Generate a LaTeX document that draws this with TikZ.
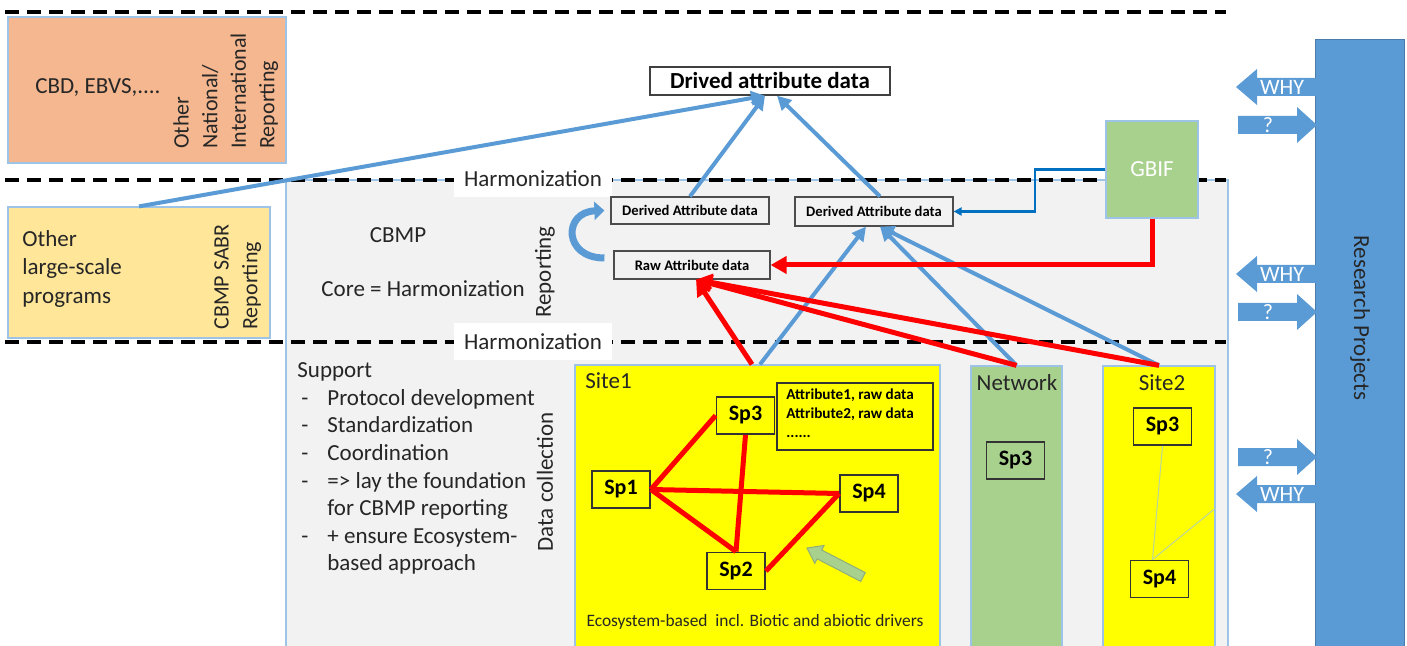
\documentclass[tikz,border=0pt]{standalone}
\usepackage{fontspec}
\setmainfont{Carlito}
\usetikzlibrary{arrows.meta}
\definecolor{orangeF}{HTML}{F4B790}
\definecolor{lyellow}{HTML}{FFE699}
\definecolor{panelgray}{HTML}{F2F2F2}
\definecolor{lineblue}{HTML}{9DC3E6}
\definecolor{arrowblue}{HTML}{5B9BD5}
\definecolor{gbifblue}{HTML}{0070C0}
\definecolor{gbifgreen}{HTML}{A9D18E}
\definecolor{resblue}{HTML}{5B9BD5}
\definecolor{txtgray}{HTML}{262626}
\definecolor{siteyellow}{HTML}{FFFF00}
\definecolor{garrowline}{HTML}{8FAE7A}
\newcommand\fsL{\fontsize{11.5pt}{14pt}\selectfont}
\newcommand\fsB{\fontsize{11pt}{13.4pt}\selectfont}
\newcommand\fsR{\fontsize{11pt}{14.3pt}\selectfont}
\newcommand\fsS{\fontsize{7.3pt}{8.5pt}\selectfont}
\newcommand\fsE{\fontsize{8.7pt}{10pt}\selectfont}
\begin{document}
\begin{tikzpicture}[x=0.5pt,y=-0.5pt,
  dashln/.style={black, line width=1.6pt, dash pattern=on 7pt off 4pt},
  region/.style={draw=lineblue, line width=0.6pt, inner sep=0pt},
  abox/.style={draw=black!70, line width=0.6pt, fill=panelgray, inner sep=0pt, font=\fsS\bfseries},
  spbox/.style={draw=black!80, line width=0.9pt, inner sep=0pt, minimum width=29pt, minimum height=18.5pt, font=\fsB\bfseries},
  lbl/.style={inner sep=0pt, text=txtgray, font=\fsL},
  harm/.style={fill=white, inner sep=0pt, minimum width=79pt, minimum height=18.5pt, text=txtgray, font=\fsL},
  barrow/.style={arrowblue, line width=2pt, -{Triangle[length=7pt,width=7pt]}},
  rarrow/.style={red, line width=2.5pt, -{Triangle[length=8pt,width=8.5pt]}},
  wtxt/.style={inner sep=0pt, text=white, font=\fsB},
  blk/.style={fill=resblue}
]
\useasboundingbox (0,0) rectangle (1407,646);

% left boxes
\node[region, fill=orangeF, minimum width=139pt, minimum height=73pt] (orange) at (147,90) {};
\node[region, fill=lyellow, minimum width=131pt, minimum height=65.5pt] (oth) at (139,272.5) {};
% grey panel
\node[region, fill=panelgray, minimum width=471pt, minimum height=235pt] (panel) at (757,415) {};

% sites
\node[region, fill=siteyellow, minimum width=182.5pt, minimum height=142.5pt] (site1) at (757.5,507.5) {};
\node[region, fill=gbifgreen, minimum width=45.5pt, minimum height=142pt] (network) at (1016.5,508) {};
\node[region, fill=siteyellow, minimum width=56pt, minimum height=142pt] (site2) at (1159,508) {};

% dashed lines
\coordinate (d1a) at (5,12);   \coordinate (d1b) at (1226,12);
\coordinate (d2a) at (5,180);  \coordinate (d2b) at (1226,180);
\coordinate (d3a) at (5,342);  \coordinate (d3b) at (1226,342);
\draw[dashln] (d1a) -- (d1b);
\draw[dashln] (d2a) -- (d2b);
\draw[dashln] (d3a) -- (d3b);

\node[harm] (harm1) at (533,179) {Harmonization};
\node[harm] (harm2) at (533,342) {Harmonization};

% left texts
\node[lbl] (cbd) at (98,88) {CBD, EBVS,....};
\node[lbl, font=\fsR, anchor=north west, align=left, rotate=90] (natrep) at (173,149) {Other\\National/\\International\\Reporting};
\node[lbl, font=\fsL, anchor=north west, align=left] (othtxt) at (22,230) {Other\\[0.2pt]large-scale\\[0.2pt]programs};
\node[lbl, font=\fsR, anchor=north west, align=left, rotate=90] (sabr) at (214,330) {CBMP SABR\\Reporting};

% panel texts
\node[lbl] (cbmp) at (398,235) {CBMP};
\node[lbl] (core) at (423,289) {Core = Harmonization};
\node[lbl, rotate=90] (reporting) at (545,272) {Reporting};
\node[lbl, rotate=90] (datacol) at (545,482) {Data collection};
\node[lbl, anchor=north west] (support) at (297,358) {\fontsize{11.5pt}{13.8pt}\selectfont
\begin{tabular}{@{}p{15pt}@{}l@{}}
\multicolumn{2}{@{}l@{}}{Support}\\
\hspace{2pt}-&Protocol development\\
\hspace{2pt}-&Standardization\\
\hspace{2pt}-&Coordination\\
\hspace{2pt}-&=> lay the foundation\\
 &for CBMP reporting\\
\hspace{2pt}-&+ ensure Ecosystem-\\
 &based approach
\end{tabular}};

% reporting boxes
\node[draw=black!75, line width=0.7pt, fill=white, inner sep=0pt, minimum width=120pt, minimum height=14pt, font=\fsL\bfseries] (drived) at (770,81) {Drived attribute data};
\node[abox, minimum width=79pt, minimum height=13.5pt] (d1) at (690,210.5) {Derived Attribute data};
\node[abox, minimum width=79pt, minimum height=14.5pt] (d2) at (874,211.5) {Derived Attribute data};
\node[abox, minimum width=78pt, minimum height=14pt] (raw) at (692,265) {Raw Attribute data};
\node[draw=lineblue, line width=0.6pt, fill=gbifgreen, minimum width=46pt, minimum height=48.5pt, inner sep=0pt, text=white, font=\fsL] (gbif) at (1152,169.5) {GBIF};

% site contents
\node[lbl, anchor=west] (site1lbl) at (585,381) {Site1};
\node[lbl] (netlbl) at (1017,383) {Network};
\node[lbl] (site2lbl) at (1162,383) {Site2};
\node[lbl, font=\fsE] (eco) at (755,622) {Ecosystem-based\ \ incl. Biotic and abiotic drivers};

\node[spbox] (s1sp3) at (745.5,415.5) {Sp3};
\node[spbox] (s1sp1) at (621,489.5) {Sp1};
\node[spbox] (s1sp4) at (869,493.5) {Sp4};
\node[spbox] (s1sp2) at (736,571) {Sp2};
\node[draw=black!80, line width=0.8pt, minimum width=78pt, minimum height=33.5pt, inner sep=0pt] (attr) at (855,416.5) {};
\node[inner sep=0pt, anchor=north west, align=left, font=\fontsize{7.6pt}{9.5pt}\selectfont\bfseries] (attrtxt) at (786,388) {Attribute1, raw data\\Attribute2, raw data\\......};

\node[spbox] (netsp3) at (1015.5,460.5) {Sp3};
\node[spbox] (s2sp3) at (1162.5,426.5) {Sp3};
\node[spbox] (s2sp4) at (1159.5,579) {Sp4};

% site1 network edges
\draw[red, line width=2.5pt] (s1sp1.east) -- (s1sp3.west);
\draw[red, line width=2.5pt] (s1sp1.east) -- (s1sp4.west);
\draw[red, line width=2.5pt] (s1sp1.east) -- (s1sp2.north);
\draw[red, line width=2.5pt] (s1sp3.south) -- (s1sp2.north);
\draw[red, line width=2.5pt] (s1sp2.east) -- (s1sp4.west);
% site2 thin edges
\draw[lineblue!70!siteyellow, line width=0.5pt] (s2sp3.south) -- ([xshift=-3.5pt]s2sp4.north);
\draw[lineblue!70!siteyellow, line width=0.5pt] ([xshift=-3.5pt]s2sp4.north) -- (site2.east);

% green block arrow
\draw[draw=garrowline, line width=0.5pt, fill=gbifgreen] (865.3,572.6) -- (821.7,550.0) -- (824.0,545.5) -- (807,548) -- (814.8,563.3) -- (817.1,558.8) -- (860.7,581.4) -- cycle;

% curved arrow raw -> derived
\draw[arrowblue, line width=3.5pt, -{Triangle[length=5pt,width=9pt]}] ([xshift=-4.5pt,yshift=3.5pt]raw.west) .. controls (563,258) and (563,212) .. ([xshift=-3pt]d1.west);

% blue connectors
\draw[barrow] (oth.north) -- ([xshift=-2.5pt]drived.south);
\draw[barrow] (d1.north) -- ([xshift=-2.5pt]drived.south);
\draw[barrow] ([xshift=3pt]d2.north) -- ([xshift=3.5pt]drived.south);
\draw[barrow] ([xshift=1.25pt]site1.north) -- ([xshift=-4pt]d2.south);
\draw[barrow] (network.north) -- ([xshift=3pt]d2.south);
\draw[barrow] (site2.north) -- ([xshift=3pt]d2.south);

% red connectors
\draw[rarrow] ([xshift=-2.75pt]site1.north) -- ([xshift=2pt]raw.south);
\draw[rarrow] (network.north) -- ([xshift=2pt]raw.south);
\draw[rarrow] (site2.north) -- ([xshift=2pt]raw.south);

% GBIF connectors
\coordinate (gbturn) at (1035,169.5);
\draw[gbifblue, line width=1.1pt, -{Triangle[length=4pt,width=4pt]}] (gbif.west) -- (gbturn) |- (d2.east);
\draw[rarrow] (gbif.south) |- (raw.east);

% research projects
\node[fill=resblue, draw=resblue!80!black, line width=0.4pt, minimum width=44.5pt, minimum height=306pt, inner sep=0pt] (research) at (1359.5,345) {};
\node[lbl, rotate=-90] (restxt) at (1360,318) {Research Projects};

% block arrows: left (WHY) and right (?)
\foreach \c/\t [count=\i] in {87/WHY, 274/WHY, 494/WHY} {
  \fill[blk] (1316,\c-9) -- (1257,\c-9) -- (1257,\c-18) -- (1236,\c) -- (1257,\c+18) -- (1257,\c+9) -- (1316,\c+9) -- cycle;
  \node[wtxt] (why\i) at (1282,\c) {\t};
}
\foreach \c/\t [count=\i] in {125/?, 312/?, 457/?} {
  \fill[blk] (1238,\c-9) -- (1297,\c-9) -- (1297,\c-18) -- (1317,\c) -- (1297,\c+18) -- (1297,\c+9) -- (1238,\c+9) -- cycle;
  \node[wtxt] (q\i) at (1268,\c) {\t};
}
\end{tikzpicture}
\end{document}
